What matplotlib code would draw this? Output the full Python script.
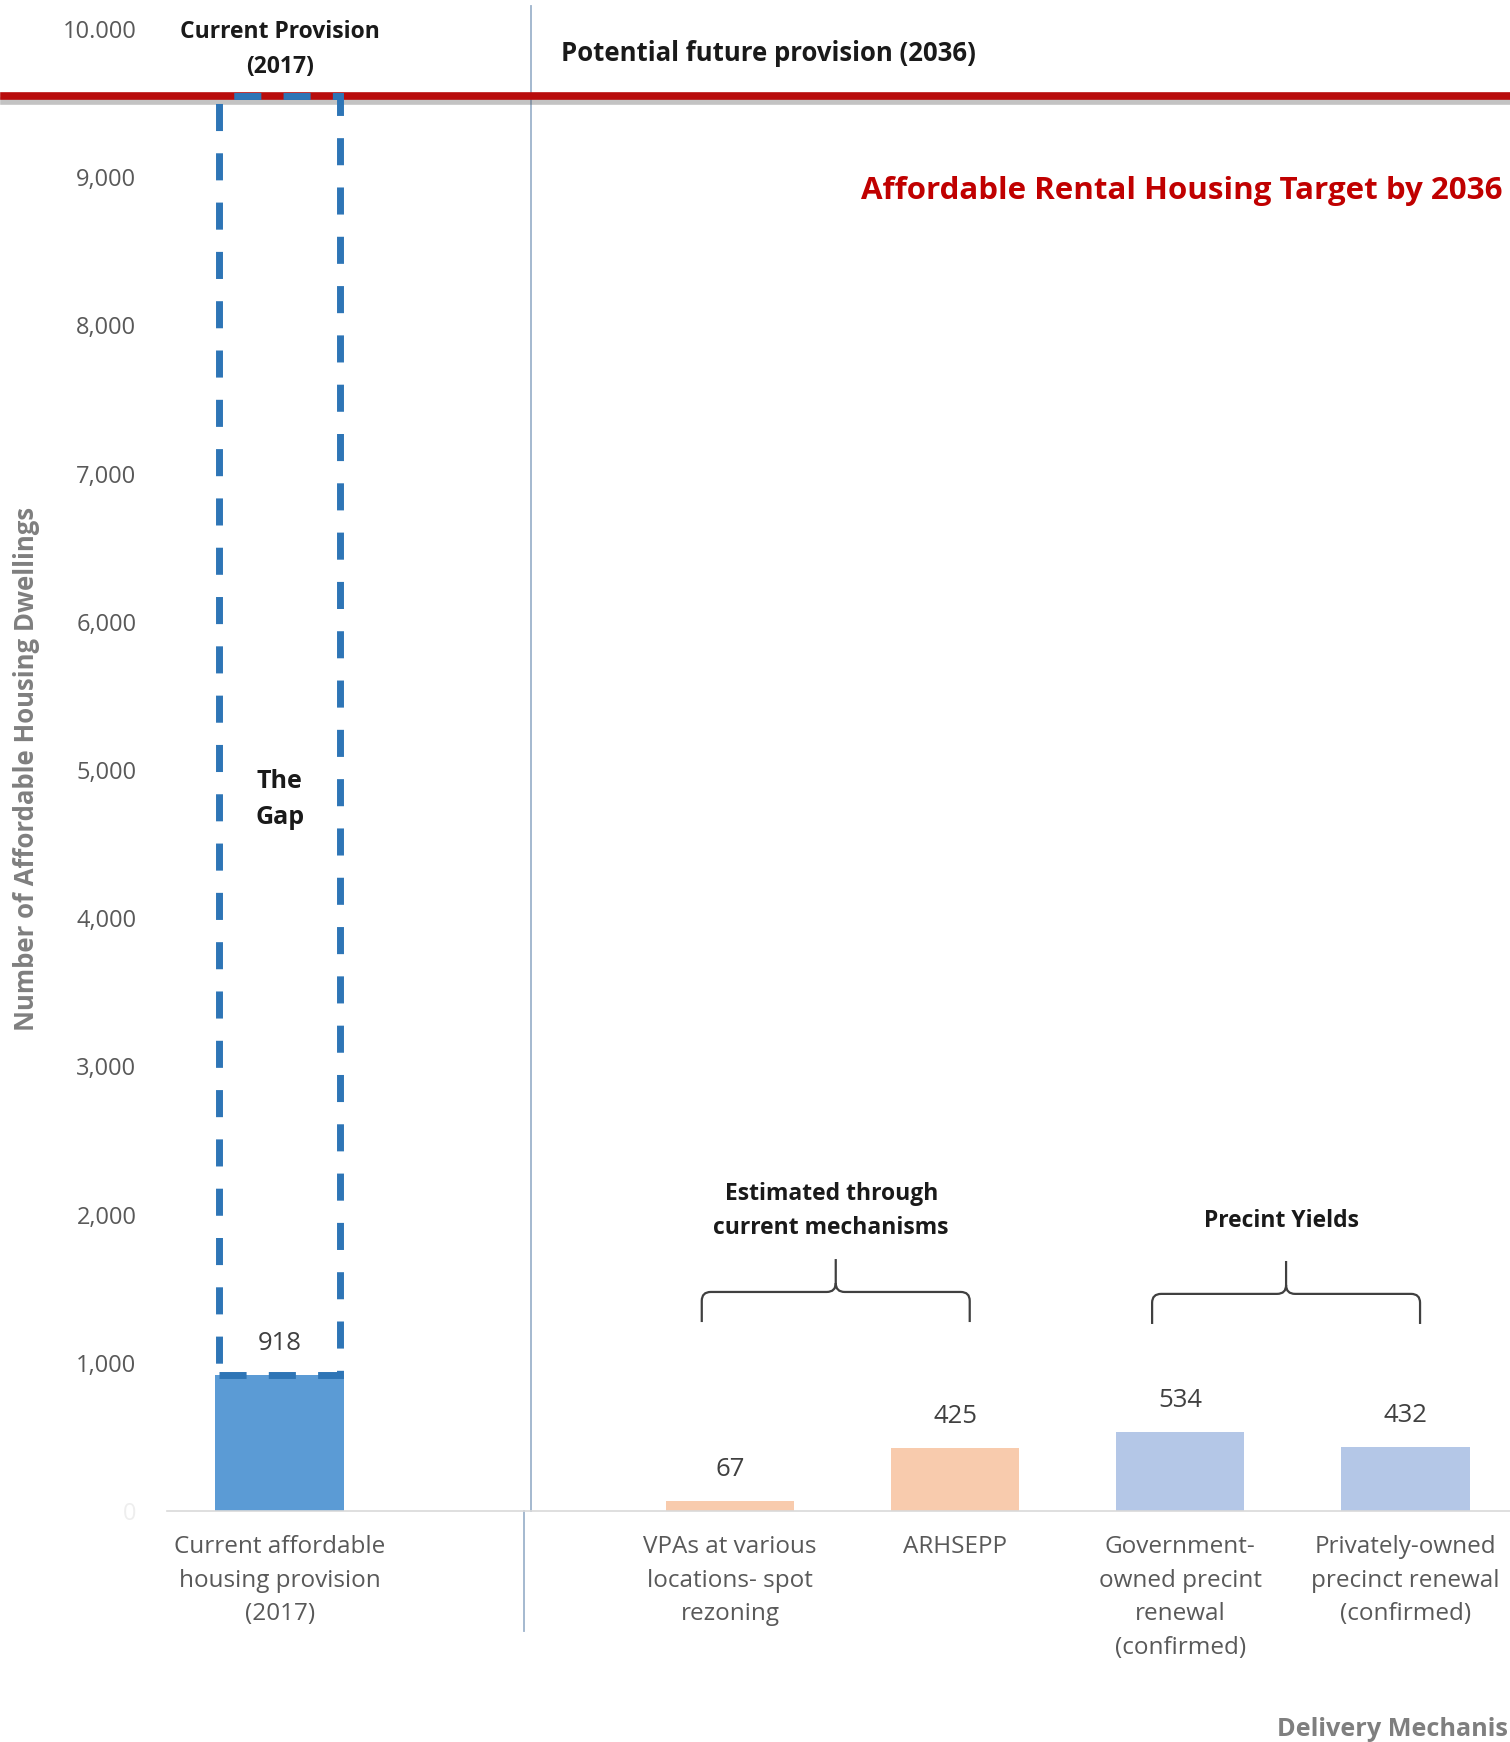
import numpy as np
import matplotlib
matplotlib.use("Agg")
import matplotlib.pyplot as plt
import matplotlib.patheffects as pe
from matplotlib.patches import Rectangle, PathPatch
from matplotlib.path import Path

plt.rcParams['font.family'] = ['Open Sans', 'DejaVu Sans']

# dwellings by delivery mechanism
categories = ['Current affordable\nhousing provision\n(2017)',
              'VPAs at various\nlocations- spot\nrezoning',
              'ARHSEPP',
              'Government-\nowned precint\nrenewal\n(confirmed)',
              'Privately-owned\nprecinct renewal\n(confirmed)']
values = [918, 67, 425, 534, 432]
colors = ['#5B9BD5', '#F8CBAD', '#F8CBAD', '#B4C7E7', '#B4C7E7']
target = 9550

yticks = [0, 1000, 2000, 3000, 4000, 5000, 6000, 7000, 8000, 9000, 10000]
ytick_labels = ['0', '1,000', '2,000', '3,000', '4,000', '5,000',
                '6,000', '7,000', '8,000', '9,000', '10.000']

groups = [('Estimated through\ncurrent mechanisms', [1, 2]),
          ('Precint Yields', [3, 4])]

# leave an empty slot between current provision and the future mechanisms
xpos = np.array([0] + list(range(2, len(categories) + 1)))

W, H = 1510, 1742
fig = plt.figure(figsize=(W / 100, H / 100), dpi=100)
ax = fig.add_axes([167 / W, 231 / H, 1351 / W, 1482 / H])

ax.bar(xpos, values, width=0.57, color=colors, zorder=2)
ax.set_xlim(-0.5, 5.5)
ax.set_ylim(0, 10000)

for x, v in zip(xpos, values):
    ax.annotate(f'{v:,}', (x, v), xytext=(0, 22.5), textcoords='offset points',
                ha='center', va='center', fontsize=18.5, color='#404040')

# gap between current provision and target
gap = Rectangle((xpos[0] - 0.27, values[0]), 0.54, target - values[0],
                fill=False, edgecolor='#2E75B6', lw=5,
                linestyle=(0, (3.9, 3.2)), zorder=4, clip_on=False)
ax.add_patch(gap)
ax.text(xpos[0], 4800, 'The\nGap', ha='center', va='center',
        fontsize=18, fontweight='bold', color='#1a1a1a', linespacing=1.55)

# target line
ax.axhline(target, xmin=-0.121, xmax=1.01, color='#B80C0C', lw=5.5, clip_on=False,
           zorder=3, path_effects=[pe.SimpleLineShadow(offset=(0, -3.5), shadow_color='#555555',
                                                       alpha=0.35),
                                   pe.Normal()])
ax.text(5.433, 8907, 'Affordable Rental Housing Target by 2036', ha='right', va='center',
        fontsize=22.5, fontweight='bold', color='#C00000')

# divider
ax.plot([1.118, 1.118], [0, 10155], color='#9DB3CC', lw=1.3, clip_on=False)
ax.plot([1.087, 1.087], [0, -810], color='#9DB3CC', lw=1.3, clip_on=False)

ax.text(0, 9860, 'Current Provision\n(2017)', ha='center', va='center', fontsize=16.5,
        fontweight='bold', color='#1a1a1a', linespacing=1.6)
ax.text(1.251, 9838, 'Potential future provision (2036)', ha='left', va='center',
        fontsize=18.5, fontweight='bold', color='#1a1a1a')


def brace(ax, x0, x1, y_end, y_mid, y_tip, rx=0.04, ry=60):
    xm = (x0 + x1) / 2
    verts = [(x0, y_end), (x0, y_mid - ry), (x0, y_mid), (x0 + rx, y_mid),
             (xm - rx, y_mid), (xm, y_mid), (xm, y_mid + ry), (xm, y_tip),
             (xm, y_mid + ry), (xm, y_mid), (xm + rx, y_mid),
             (x1 - rx, y_mid), (x1, y_mid), (x1, y_mid - ry), (x1, y_end)]
    codes = [Path.MOVETO, Path.LINETO, Path.CURVE3, Path.CURVE3,
             Path.LINETO, Path.CURVE3, Path.CURVE3, Path.LINETO,
             Path.MOVETO, Path.CURVE3, Path.CURVE3,
             Path.LINETO, Path.CURVE3, Path.CURVE3, Path.LINETO]
    ax.add_patch(PathPatch(Path(verts, codes), fill=False, edgecolor='#404040', lw=1.6))


for (label, idx), y0, ty in zip(groups, [1275, 1262], [2025, 1960]):
    c = xpos[idx].mean() - 0.03
    brace(ax, c - 0.595, c + 0.595, y0, y0 + 203, y0 + 425)
    ax.text(c - 0.02, ty, label, ha='center', va='center', fontsize=16.5,
            fontweight='bold', color='#1a1a1a', linespacing=1.55)

ax.set_xticks(xpos)
ax.set_xticklabels(categories, fontsize=17.5, color='#595959', linespacing=1.55)
ax.set_yticks(yticks)
ax.set_yticklabels(ytick_labels, fontsize=17, color='#595959')
ax.get_yticklabels()[0].set_color('#EEEEEE')
ax.tick_params(axis='y', length=0, pad=22)
ax.tick_params(axis='x', length=0, pad=17)

for s in ['top', 'right', 'left']:
    ax.spines[s].set_visible(False)
ax.spines['bottom'].set_color('#D9D9D9')
ax.spines['bottom'].set_linewidth(1.2)

fig.text(27 / W, 1 - 769 / H, 'Number of Affordable Housing Dwellings', rotation=90,
         ha='center', va='center', fontsize=18.5, fontweight='bold', color='#7F7F7F')
fig.text(1508 / W, 13 / H, 'Delivery Mechanis', ha='right', va='center',
         fontsize=18.2, fontweight='bold', color='#7F7F7F')

fig.savefig('out.png', dpi=100, facecolor='white')
